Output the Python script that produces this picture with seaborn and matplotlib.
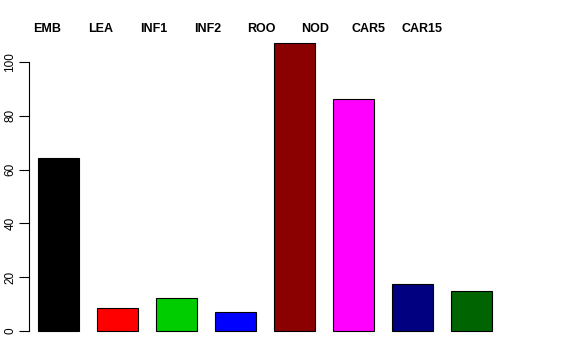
import matplotlib
matplotlib.use("Agg")
import matplotlib.pyplot as plt
import seaborn as sns
import pandas as pd

categories = ["EMB", "LEA", "INF1", "INF2", "ROO", "NOD", "CAR5", "CAR15"]
values = [64.3, 8.5, 12.2, 7.0, 107.1, 86.2, 17.4, 14.9]
colors = ["#000000", "#FF0000", "#00CD00", "#0000FF", "#8B0000", "#FF00FF", "#000080", "#006400"]
yticks = [0, 20, 40, 60, 80, 100]

sns.set_style("white")
plt.rcParams["font.family"] = ["Liberation Sans", "DejaVu Sans"]
plt.rcParams["text.color"] = "black"
plt.rcParams["ytick.color"] = "black"
plt.rcParams["ytick.labelcolor"] = "black"
plt.rcParams["axes.labelcolor"] = "black"

df = pd.DataFrame({"cat": categories, "val": values})

fig = plt.figure(figsize=(5.76, 3.6), dpi=100)
ax = fig.add_axes([29/576, 1 - 342.6/360, 472/576, (342.6 - 31.3)/360])
sns.barplot(data=df, x="cat", y="val", hue="cat", palette=colors, legend=False,
            width=0.695, edgecolor="black", linewidth=0.8, saturation=1, ax=ax)
ax.set_xlim(-0.5, 7.5)
ax.set_ylim(-4.3, 111.4)
ax.set_xlabel("")
ax.set_ylabel("")
ax.set_xticks([])
ax.set_yticks(yticks)
ax.set_yticklabels([str(t) for t in yticks], rotation=90, va="center", fontsize=8.5, color="black")
ax.tick_params(axis="y", length=7, width=0.8, pad=2, left=True, color="black")
for s in ["top", "right", "bottom"]:
    ax.spines[s].set_visible(False)
ax.spines["left"].set_bounds(0, 100)
ax.spines["left"].set_color("black")
ax.spines["left"].set_linewidth(0.8)

for i, c in enumerate(categories):
    fig.text((47 + 53.6 * i) / 576, 1 - 29.5 / 360, c, ha="center", va="center",
             fontsize=9, fontweight="bold", color="black")

fig.savefig("out.png", dpi=100)
